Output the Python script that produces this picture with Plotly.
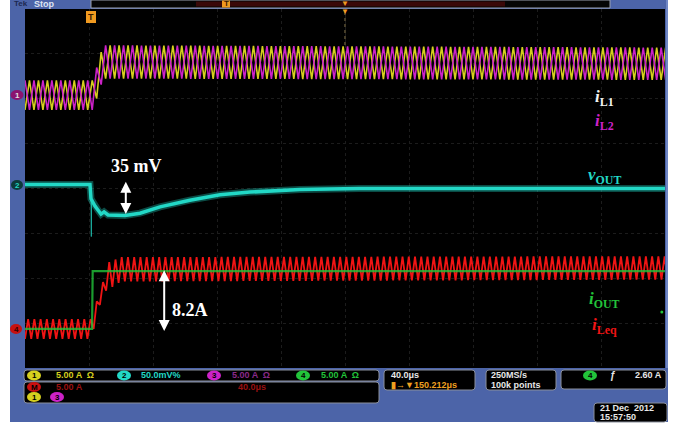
import numpy as np
import plotly.graph_objects as go

W, H = 684, 427
PL, PR, PT, PB = 25, 665, 9, 368          # plot area (pixels)

# ---------------- data (time in us, vertical in screen divisions) ----------------
T_SPAN_US = 400.0                          # 10 div x 40 us/div

IL_PERIOD_US = 5.6
IL_ENV_T_US = [0.0, 42.5, 48.8, 400.0]
IL_CENTER_DIV = [2.08, 2.08, 2.82, 2.78]
IL_HALF_RIPPLE_DIV = [0.33, 0.33, 0.37, 0.36]
IL1_PHASE = 0.0
IL2_PHASE = 0.5

VOUT_T_US = [0, 40.6, 41.25, 41.9, 43.75, 45.6, 47.5, 49.4, 51.9, 62.5,
             71.9, 84.4, 103, 121.9, 140.6, 171.9, 209, 400]
VOUT_DEV_MV = [0, 0, -16, -18.5, -24, -28.5, -33, -30.5, -34, -34.5,
               -32, -25, -17.5, -11.5, -8.5, -5.5, -4.5, -4.5]
VOUT_SPIKE_T_US = [41.25, 41.45, 41.65]
VOUT_SPIKE_MV = [-16, -58, -18]
VOUT_MV_PER_DIV = 50.0
VOUT_POS_DIV = 0.09

IOUT_T_US = [0, 41.9, 42.3, 400]
IOUT_DIV = [-3.13, -3.13, -1.84, -1.84]

ILEQ_PERIOD_US = 3.9
ILEQ_ENV_T_US = [0, 41.3, 48.8, 52, 60, 400]
ILEQ_CENTER_DIV = [-3.13, -3.13, -2.2, -1.95, -1.8, -1.77]
ILEQ_HALF_RIPPLE_DIV = [0.22, 0.22, 0.12, 0.30, 0.27, 0.26]

TRACE_LABELS = ["i<sub>L1</sub>", "i<sub>L2</sub>", "v<sub>OUT</sub>", "i<sub>OUT</sub>", "i<sub>Leq</sub>"]


def ripple(period, phase, env_t, center, half):
    k = np.arange(-2, int(2 * T_SPAN_US / period) + 4)
    t = (phase + k / 2.0) * period
    c = np.interp(t, env_t, center)
    a = np.interp(t, env_t, half)
    sign = np.where(k % 2 == 0, -1.0, 1.0)
    return t, c + a * sign


YEL, MAG, CYA, GRN, RED = "#d6cf1e", "#cc22c8", "#22d8c6", "#22c43a", "#f01414"

fig = go.Figure()
t1, y1 = ripple(IL_PERIOD_US, IL1_PHASE, IL_ENV_T_US, IL_CENTER_DIV, IL_HALF_RIPPLE_DIV)
t2, y2 = ripple(IL_PERIOD_US, IL2_PHASE, IL_ENV_T_US, IL_CENTER_DIV, IL_HALF_RIPPLE_DIV)
fig.add_trace(go.Scatter(x=t1, y=y1, mode="lines", line=dict(color=YEL, width=1.6), hoverinfo="skip"))
fig.add_trace(go.Scatter(x=t2, y=y2, mode="lines", line=dict(color=MAG, width=1.6), hoverinfo="skip"))

vout_div = [VOUT_POS_DIV + v / VOUT_MV_PER_DIV for v in VOUT_DEV_MV]
spike_div = [VOUT_POS_DIV + v / VOUT_MV_PER_DIV for v in VOUT_SPIKE_MV]
fig.add_trace(go.Scatter(x=VOUT_T_US, y=vout_div, mode="lines",
                         line=dict(color=CYA, width=7), opacity=0.35, hoverinfo="skip"))
fig.add_trace(go.Scatter(x=VOUT_T_US, y=vout_div, mode="lines",
                         line=dict(color=CYA, width=3.5), hoverinfo="skip"))
fig.add_trace(go.Scatter(x=VOUT_SPIKE_T_US, y=spike_div, mode="lines",
                         line=dict(color=CYA, width=1), opacity=0.8, hoverinfo="skip"))

tr, yr = ripple(ILEQ_PERIOD_US, 0.0, ILEQ_ENV_T_US, ILEQ_CENTER_DIV, ILEQ_HALF_RIPPLE_DIV)
fig.add_trace(go.Scatter(x=tr, y=yr, mode="lines", line=dict(color=RED, width=1.8), hoverinfo="skip"))
fig.add_trace(go.Scatter(x=IOUT_T_US, y=IOUT_DIV, mode="lines",
                         line=dict(color=GRN, width=2.2), opacity=0.8, hoverinfo="skip"))
fig.add_trace(go.Scatter(x=[398], y=[-2.75], mode="markers",
                         marker=dict(color=GRN, size=3), hoverinfo="skip"))


def PX(x):
    return (x - PL) / (PR - PL)


def PY(y):
    return (PB - y) / (PB - PT)


shapes = []


def rect(x0, y0, x1, y1, fill, line=None, lw=0):
    shapes.append(dict(type="rect", xref="paper", yref="paper", layer="above",
                       x0=PX(x0), x1=PX(x1), y0=PY(y1), y1=PY(y0),
                       fillcolor=fill, line=dict(color=line or fill, width=lw)))


def rrect(x0, y0, x1, y1, fill="#000000", line="#8a8f9c", r=3):
    X0, X1, Y0, Y1 = PX(x0), PX(x1), PY(y0), PY(y1)
    rx, ry = r / (PR - PL), r / (PB - PT)
    p = (f"M {X0+rx},{Y0} L {X1-rx},{Y0} Q {X1},{Y0} {X1},{Y0-ry} "
         f"L {X1},{Y1+ry} Q {X1},{Y1} {X1-rx},{Y1} L {X0+rx},{Y1} "
         f"Q {X0},{Y1} {X0},{Y1+ry} L {X0},{Y0-ry} Q {X0},{Y0} {X0+rx},{Y0} Z")
    shapes.append(dict(type="path", xref="paper", yref="paper", layer="above", path=p,
                       fillcolor=fill, line=dict(color=line, width=1)))


def ell(cx, cy, w, h, fill):
    shapes.append(dict(type="circle", xref="paper", yref="paper", layer="above",
                       x0=PX(cx - w / 2), x1=PX(cx + w / 2), y0=PY(cy + h / 2), y1=PY(cy - h / 2),
                       fillcolor=fill, line=dict(color=fill, width=0)))


BLUE = "#4c64a8"
# frame
rect(10, 0, 668, PT, BLUE)
rect(10, 0, PL, PB, BLUE)
rect(PR, 0, 668, PB, BLUE)
rect(10, PB, 668, 422, BLUE)
rect(PR + 1, 0, 668, PB, "#6f86c4")
# top record bar
rect(91, 0, 610, 8, "#050505", "#9aa0b0", 1)
rect(196, 1.5, 505, 6.5, "#3a0808")
rect(222, 0.5, 230, 7.5, "#f09a20")
# trigger markers
shapes.append(dict(type="line", xref="paper", yref="paper", layer="above",
                   x0=PX(345), x1=PX(345), y0=PY(12), y1=PY(48),
                   line=dict(color="#8a7a50", width=1, dash="dot")))
rect(86, 11, 96, 23, "#f09a20")

# bottom readout boxes
rrect(24, 370, 379, 381)
rrect(24, 382, 379, 403)
rrect(384, 370, 475, 390)
rrect(486, 370, 556, 390)
rrect(561, 370, 666, 389)
rrect(594, 403, 667, 422)
for cx, cy, col in [(34, 375.5, YEL), (124, 375.5, CYA), (214, 375.5, MAG), (303, 375.5, GRN),
                    (34, 387, "#c81010"), (34, 397, YEL), (57, 397, MAG), (590, 375.5, GRN)]:
    ell(cx, cy, 14, 10, col)
# left channel markers
ell(17, 95, 13, 10, "#8a1470")
ell(17, 185, 12, 10, "#0c3a3a")
ell(16, 329, 12, 10, "#c81010")

ann = []


def txt(x, y, s, color, size=9, xanchor="left", family="Liberation Sans, Arial", bold=True):
    ann.append(dict(xref="paper", yref="paper", x=PX(x), y=PY(y), text=(f"<b>{s}</b>" if bold else s),
                    showarrow=False, xanchor=xanchor, yanchor="middle",
                    font=dict(color=color, size=size, family=family)))


# top bar texts
txt(12, 4, "Tek", "#1c2850", 8)
txt(32, 4, "Stop", "#dfe4f2", 9)
txt(226, 4, "T", "#3a1a00", 8, xanchor="center")
txt(345, 3, "▼", "#f09a20", 8, xanchor="center")
txt(345, 12, "▼", "#f09a20", 8, xanchor="center")
txt(91, 17, "T", "#3a1a00", 9, xanchor="center")

# circle numbers
for cx, cy, s in [(34, 375.5, "1"), (124, 375.5, "2"), (214, 375.5, "3"), (303, 375.5, "4"),
                  (34, 387, "M"), (34, 397, "1"), (57, 397, "3"), (590, 375.5, "4")]:
    txt(cx, cy, s, "#000000", 8, xanchor="center")
txt(17, 95, "1", "#e0e0e0", 8, xanchor="center")
txt(17, 185, "2", CYA, 8, xanchor="center")
txt(16, 329, "4", "#300000", 8, xanchor="center")

txt(54, 375.5, "5.00 A  Ω", YEL)
txt(139, 375.5, "50.0mV%", CYA)
txt(230, 375.5, "5.00 A  Ω", "#8a2a8a")
txt(319, 375.5, "5.00 A  Ω", GRN)
txt(54, 387, "5.00 A", "#9a1010")
txt(236, 387, "40.0μs", "#9a1010")
txt(389, 375, "40.0μs", "#e8e8e8")
txt(389, 384.5, "▮→▼150.212μs", "#f0a020")
txt(489, 375, "250MS/s", "#e8e8e8")
txt(489, 384.5, "100k points", "#e8e8e8")
txt(608, 375.5, "ƒ", "#e8e8e8", 10)
txt(664, 375.5, "2.60 A", "#e8e8e8", xanchor="right")
txt(598, 408, "21 Dec  2012", "#e8e8e8")
txt(598, 417, "15:57:50", "#e8e8e8")

# trace labels (serif, bold italic)
SERIF = "Liberation Serif, Times New Roman, serif"
for (x, y, col), lab in zip([(604, 98, "#f2f2f2"), (604, 122, MAG), (604, 176, CYA),
                             (604, 300, GRN), (604, 326, RED)], TRACE_LABELS):
    ann.append(dict(xref="paper", yref="paper", x=PX(x), y=PY(y), showarrow=False,
                    xanchor="center", yanchor="middle",
                    text="<b><i>" + lab.replace("<sub>", "</i><sub>").replace("</sub>", "</sub><i>") + "</i></b>",
                    font=dict(color=col, size=17, family=SERIF)))

# measurement arrows derived from the data
v_top = VOUT_POS_DIV
v_bot = VOUT_POS_DIV + min(VOUT_DEV_MV[3:]) / VOUT_MV_PER_DIV
ann.append(dict(x=63, y=v_top + 0.06, ax=63, ay=v_bot, xref="x", yref="y", axref="x", ayref="y",
                text="", showarrow=True, arrowside="end+start", arrowhead=2, arrowsize=1.1,
                arrowwidth=2, arrowcolor="white", standoff=0, startstandoff=0))
ann.append(dict(x=87, y=IOUT_DIV[-1] + 0.02, ax=87, ay=IOUT_DIV[0] - 0.08, xref="x", yref="y",
                axref="x", ayref="y", text="", showarrow=True, arrowside="end+start", arrowhead=2,
                arrowsize=1.1, arrowwidth=2, arrowcolor="white", standoff=0, startstandoff=0))
ann.append(dict(x=69.5, y=0.5, xref="x", yref="y", text="<b>35 mV</b>", showarrow=False,
                font=dict(color="white", size=18, family=SERIF)))
ann.append(dict(x=90.5, y=-2.71, xref="x", yref="y", text="<b>8.2A</b>", showarrow=False, xanchor="left",
                font=dict(color="white", size=18, family=SERIF)))

fig.update_layout(
    width=W, height=H, margin=dict(l=PL, r=W - PR, t=PT, b=H - PB, pad=0),
    paper_bgcolor="white", plot_bgcolor="black", showlegend=False,
    xaxis=dict(range=[0, T_SPAN_US], dtick=40, showgrid=True, gridcolor="#1c1c1c", griddash="dot",
               zeroline=False, showticklabels=False, ticks="", fixedrange=True),
    yaxis=dict(range=[-4, 4], dtick=1, showgrid=True, gridcolor="#1c1c1c", griddash="dot",
               zeroline=False, showticklabels=False, ticks="", fixedrange=True),
    shapes=shapes, annotations=ann,
)
fig.write_html("out.html")
